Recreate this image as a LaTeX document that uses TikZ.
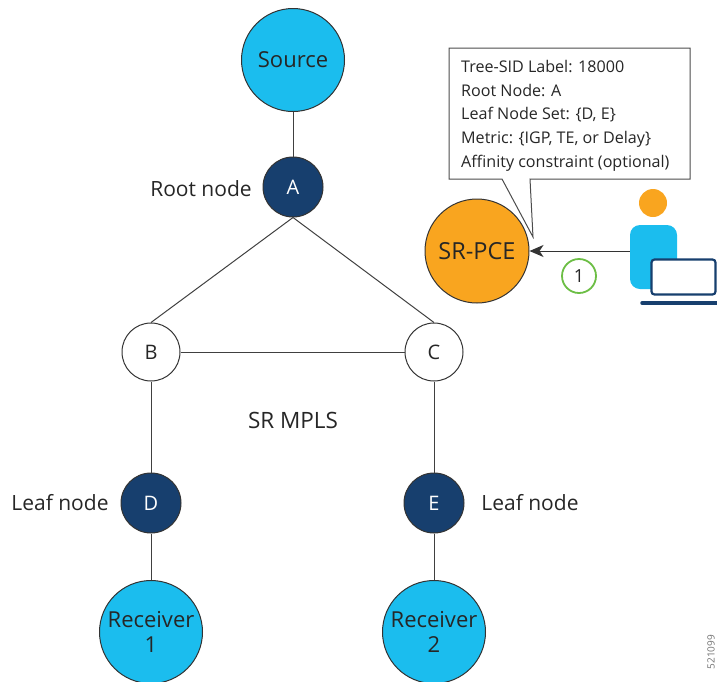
\documentclass[tikz,border=0pt]{standalone}
\usepackage{fontspec}
\setmainfont{Open Sans}
\usepackage{xcolor}
\usetikzlibrary{arrows.meta}
\definecolor{skyfill}{HTML}{1BBDEE}
\definecolor{navyfill}{HTML}{173F6E}
\definecolor{orangefill}{HTML}{F9A51F}
\definecolor{ringgreen}{HTML}{6CBE45}
\tikzset{
	big/.style={circle,draw=black!80,line width=1pt,fill=skyfill,minimum size=103pt,inner sep=0pt,align=center,font=\fontsize{22}{25}\selectfont,text=black!85},
	dark/.style={circle,draw=black!80,line width=1pt,fill=navyfill,minimum size=60pt,inner sep=0pt,font=\fontsize{20}{22}\selectfont,text=white},
	plain/.style={circle,draw=black!80,line width=1pt,fill=white,minimum size=58pt,inner sep=0pt,font=\fontsize{20}{22}\selectfont,text=black!85},
	lab/.style={font=\fontsize{21}{25}\selectfont,text=black!85,inner sep=0pt},
	link/.style={draw=black!75,line width=1pt}
}
\begin{document}
\begin{tikzpicture}[x=1pt,y=-1pt]
\useasboundingbox (0,0) rectangle (717,681);
%nodes
\node[big] (src) at (293,60) {Source};
\node[dark] (A) at (293,187) {A};
\node[plain] (B) at (151,352) {B};
\node[plain] (C) at (434,352) {C};
\node[dark] (D) at (151,503) {D};
\node[dark] (E) at (434,503) {E};
\node[big] (R1) at (151,632) {Receiver\\1};
\node[big] (R2) at (434,632) {Receiver\\2};
\node[big,fill=orangefill,minimum size=104pt,font=\fontsize{23.5}{26}\selectfont] (pce) at (477,251) {SR-PCE};
%links
\draw[link] (src)--(A);
\draw[link] (A.south)--(B.north);
\draw[link] (A.south)--(C.north);
\draw[link] (B)--(C);
\draw[link] (B)--(D);
\draw[link] (C)--(E);
\draw[link] (D)--(R1);
\draw[link] (E)--(R2);
%labels
\node[lab] (rootlab) at (201,189) {Root node};
\node[lab] (leafD) at (60,503) {Leaf node};
\node[lab] (leafE) at (530,503) {Leaf node};
\node[lab,font=\fontsize{22.5}{26}\selectfont] (mpls) at (293,420) {SR MPLS};
%callout
\coordinate (tip) at (533,237);
\draw[draw=black!70,line width=1pt,fill=white] (449,48) -- (690,48) -- (690,179) -- (530,179) -- (tip) -- (502,179) -- (449,179) -- cycle;
\node[anchor=north west,inner sep=0pt,align=left,text=black!85,font=\fontsize{16.1}{23.7}\selectfont] (info) at (461,60) {Tree-SID Label: 18000\\Root Node: A\\Leaf Node Set: \{D, E\}\\Metric: \{IGP, TE, or Delay\}\\Affinity constraint (optional)};
%person
\fill[orangefill] (653,203) circle (14);
\node[draw=none,fill=skyfill,rounded corners=10pt,minimum width=47pt,minimum height=64pt,inner sep=0pt] (body) at (653.5,257) {};
\node[draw=navyfill,line width=2.2pt,fill=white,rounded corners=3pt,minimum width=64pt,minimum height=35pt,inner sep=0pt] (laptop) at (683.5,277) {};
\draw[navyfill,line width=3.5pt,line cap=round] (642,303) -- (717,303);
%step
\draw[draw=black!80,line width=1pt,-{Stealth[length=14pt,width=12pt,inset=4pt]}] (body.west |- pce.east) -- (pce.east);
\node[circle,draw=ringgreen,line width=1.8pt,fill=white,minimum size=34pt,inner sep=0pt,font=\fontsize{18}{20}\selectfont,text=black!85] (one) at (579,276) {1};
\node[rotate=90,inner sep=0pt,text=black!55,font=\fontsize{10}{12}\selectfont] (fig) at (711,652) {521099};
\end{tikzpicture}
\end{document}
